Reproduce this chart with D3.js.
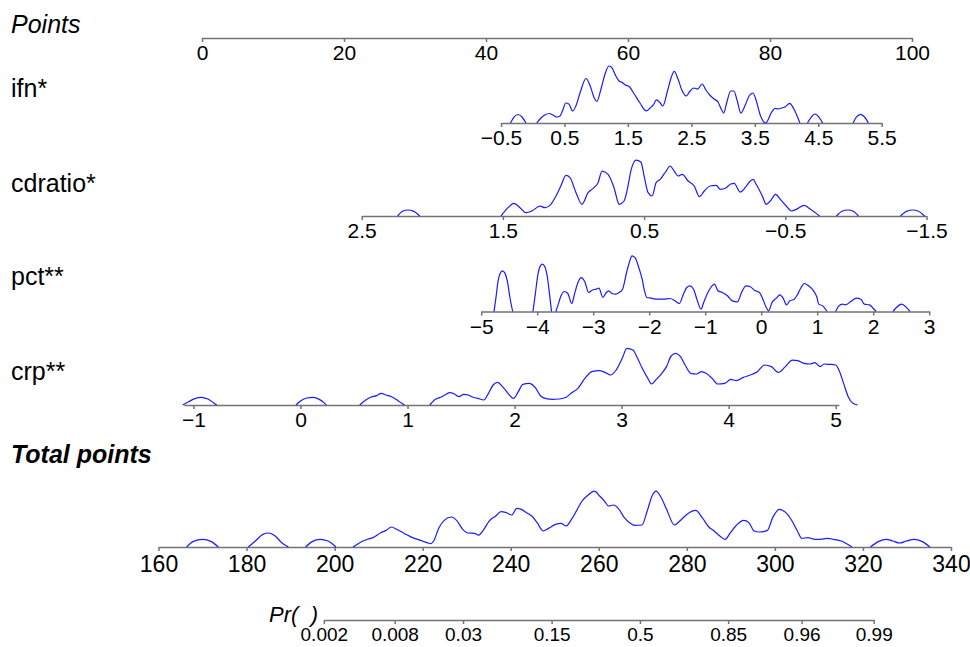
<!DOCTYPE html>
<html>
<head>
<meta charset="utf-8">
<script src="https://cdn.jsdelivr.net/npm/d3@7"></script>
<style>
body { margin: 0; background: #fff; }
</style>
</head>
<body>
<div id="main"></div>
<script>

//=============== DATA ===================
var pointsTicks = [0, 20, 40, 60, 80, 100];
var ifnTicks = [-0.5, 0.5, 1.5, 2.5, 3.5, 4.5, 5.5];
var cdratioTicks = [2.5, 1.5, 0.5, -0.5, -1.5];
var pctTicks = [-5, -4, -3, -2, -1, 0, 1, 2, 3];
var crpTicks = [-1, 0, 1, 2, 3, 4, 5];
var totalTicks = [160, 180, 200, 220, 240, 260, 280, 300, 320, 340];
var prTicks = [0.002, 0.008, 0.03, 0.15, 0.5, 0.85, 0.96, 0.99];
var prLabels = ["0.002", "0.008", "0.03", "0.15", "0.5", "0.85", "0.96", "0.99"];

// density traces: [value, relative density], null = gap
var ifnDensity = [
  [-0.35,0],[-0.295,0.105],[-0.232,0.149],[-0.169,0.105],[-0.106,0],null,
  [0.063,0],[0.13,0.088],[0.19,0.14],[0.26,0.167],[0.32,0.14],[0.38,0.105],[0.43,0.123],[0.48,0.246],
  [0.52,0.351],[0.57,0.333],[0.63,0.211],[0.68,0.298],[0.75,0.544],[0.84,0.781],[0.90,0.667],[0.97,0.439],
  [1.01,0.377],[1.08,0.614],[1.14,0.86],[1.20,1.0],[1.25,0.965],[1.31,0.825],[1.36,0.737],[1.41,0.711],
  [1.46,0.667],[1.52,0.64],[1.60,0.509],[1.69,0.351],[1.79,0.211],[1.85,0.263],[1.90,0.316],[1.95,0.404],
  [2.01,0.351],[2.05,0.298],[2.12,0.544],[2.18,0.789],[2.23,0.904],[2.29,0.772],[2.35,0.579],[2.42,0.474],
  [2.48,0.561],[2.54,0.614],[2.60,0.596],[2.67,0.684],[2.73,0.579],[2.79,0.491],[2.86,0.421],[2.92,0.368],
  [2.97,0.246],[3.01,0.175],[3.06,0.368],[3.12,0.561],[3.17,0.561],[3.22,0.404],[3.28,0.175],[3.35,0.316],
  [3.41,0.474],[3.47,0.526],[3.52,0.404],[3.58,0.158],[3.67,0],[3.77,0.198],[3.82,0.258],[3.87,0.246],
  [3.91,0.258],[3.98,0.286],[4.05,0.346],[4.11,0.258],[4.16,0.14],[4.21,0],null,
  [4.33,0],[4.39,0.105],[4.45,0.158],[4.51,0.105],[4.57,0],null,
  [5.05,0],[5.10,0.105],[5.17,0.153],[5.23,0.105],[5.29,0]
];

var cdratioDensity = [
  [2.245,0],[2.211,0.082],[2.174,0.105],[2.131,0.082],[2.089,0],null,
  [1.513,0],[1.464,0.146],[1.422,0.222],[1.379,0.146],[1.337,0.058],[1.294,0.088],[1.237,0.175],[1.203,0.146],
  [1.167,0.187],[1.124,0.351],[1.090,0.526],[1.053,0.713],[1.025,0.673],[0.982,0.409],[0.940,0.205],[0.897,0.409],
  [0.855,0.497],[0.826,0.585],[0.798,0.789],[0.755,0.731],[0.713,0.497],[0.676,0.205],[0.642,0.263],[0.619,0.468],
  [0.591,0.819],[0.557,0.982],[0.523,0.947],[0.500,0.702],[0.472,0.409],[0.443,0.351],[0.415,0.585],[0.386,0.643],
  [0.344,0.789],[0.316,0.877],[0.287,0.789],[0.259,0.702],[0.230,0.731],[0.188,0.614],[0.145,0.526],[0.108,0.339],
  [0.074,0.439],[0.032,0.526],[-0.011,0.538],[-0.039,0.468],[-0.082,0.497],[-0.110,0.556],[-0.138,0.573],[-0.181,0.421],
  [-0.224,0.526],[-0.252,0.614],[-0.272,0.643],[-0.294,0.556],[-0.337,0.351],[-0.365,0.205],[-0.394,0.263],[-0.431,0.380],
  [-0.465,0.292],[-0.507,0.175],[-0.544,0.088],[-0.578,0.117],[-0.635,0.187],[-0.663,0.146],[-0.706,0.070],[-0.743,0],null,
  [-0.862,0],[-0.902,0.082],[-0.941,0.105],[-0.981,0.082],[-1.018,0],null,
  [-1.316,0],[-1.358,0.082],[-1.401,0.105],[-1.443,0.082],[-1.486,0]
];

var pctDensity = [
  [-4.771,0],[-4.740,0.216],[-4.698,0.539],[-4.662,0.667],[-4.620,0.713],[-4.577,0.673],[-4.529,0.509],[-4.487,0.246],[-4.438,0],null,
  [-4.076,0],[-4.034,0.304],[-3.986,0.655],[-3.943,0.801],[-3.907,0.830],[-3.865,0.789],[-3.817,0.596],[-3.780,0.304],[-3.744,0],null,
  [-3.666,0],[-3.623,0.129],[-3.575,0.275],[-3.515,0.351],[-3.454,0.316],[-3.382,0.140],[-3.334,0.304],[-3.273,0.509],
  [-3.213,0.596],[-3.152,0.526],[-3.080,0.333],[-3.020,0.374],[-2.947,0.392],[-2.899,0.409],[-2.826,0.246],[-2.766,0.333],
  [-2.718,0.363],[-2.669,0.316],[-2.597,0.304],[-2.537,0.333],[-2.476,0.392],[-2.404,0.684],[-2.355,0.860],[-2.307,0.977],
  [-2.247,0.936],[-2.186,0.772],[-2.126,0.567],[-2.084,0.363],[-2.041,0.246],[-1.963,0.234],[-1.872,0.216],[-1.752,0.216],
  [-1.631,0.228],[-1.540,0.187],[-1.462,0.140],[-1.389,0.304],[-1.329,0.421],[-1.269,0.450],[-1.208,0.392],[-1.148,0.216],
  [-1.075,0.041],[-1.027,0.158],[-0.936,0.363],[-0.834,0.480],[-0.773,0.363],[-0.695,0.333],[-0.604,0.275],[-0.514,0.187],
  [-0.423,0.170],[-0.351,0.333],[-0.272,0.450],[-0.194,0.433],[-0.121,0.374],[-0.031,0.333],[0.030,0.216],[0.090,0.070],
  [0.132,0.012],[0.193,0.158],[0.271,0.234],[0.332,0.292],[0.392,0.234],[0.452,0.117],[0.513,0.187],[0.591,0.216],
  [0.652,0.304],[0.712,0.421],[0.772,0.491],[0.845,0.450],[0.935,0.363],[0.996,0.246],[1.026,0.129],[1.098,0.099],[1.177,0],null,
  [1.328,0],[1.388,0.099],[1.449,0.129],[1.509,0.117],[1.600,0.175],[1.702,0.234],[1.781,0.216],[1.841,0.129],[1.932,0.117],[2.004,0.053],[2.052,0],null,
  [2.354,0],[2.415,0.070],[2.505,0.129],[2.584,0.082],[2.656,0]
];

var crpDensity = [
  [-1.100,0],[-1.044,0.058],[-0.987,0.111],[-0.926,0.135],[-0.865,0.105],[-0.813,0.041],[-0.782,0],null,
  [-0.042,0],[0.001,0.070],[0.058,0.123],[0.119,0.135],[0.176,0.099],[0.219,0.041],[0.241,0],null,
  [0.554,0],[0.598,0.070],[0.655,0.135],[0.711,0.164],[0.755,0.205],[0.798,0.175],[0.850,0.146],[0.903,0.088],[0.946,0.029],[0.972,0],null,
  [1.208,0],[1.251,0.088],[1.308,0.135],[1.351,0.175],[1.395,0.216],[1.438,0.193],[1.482,0.146],[1.525,0.187],
  [1.569,0.175],[1.612,0.135],[1.656,0.117],[1.713,0.088],[1.756,0.205],[1.800,0.351],[1.843,0.398],[1.887,0.322],
  [1.939,0.205],[1.991,0.117],[2.035,0.234],[2.078,0.363],[2.135,0.380],[2.192,0.310],[2.244,0.158],[2.296,0.111],
  [2.353,0.099],[2.418,0.105],[2.483,0.135],[2.527,0.205],[2.592,0.292],[2.657,0.468],[2.723,0.585],[2.788,0.602],
  [2.845,0.573],[2.897,0.526],[2.949,0.614],[3.006,0.819],[3.049,0.994],[3.106,0.965],[3.149,0.819],[3.193,0.643],
  [3.245,0.468],[3.280,0.368],[3.324,0.450],[3.376,0.556],[3.419,0.673],[3.463,0.860],[3.506,0.906],[3.550,0.848],
  [3.593,0.702],[3.646,0.556],[3.702,0.544],[3.746,0.585],[3.789,0.556],[3.846,0.468],[3.898,0.368],[3.964,0.380],
  [4.020,0.450],[4.072,0.427],[4.138,0.485],[4.203,0.526],[4.268,0.585],[4.334,0.702],[4.399,0.673],[4.464,0.573],
  [4.530,0.673],[4.595,0.789],[4.647,0.778],[4.704,0.731],[4.760,0.719],[4.804,0.743],[4.856,0.673],[4.891,0.719],
  [4.943,0.713],[5.000,0.702],[5.030,0.614],[5.074,0.380],[5.117,0.146],[5.161,0.029],[5.205,0]
];

var totalDensity = [
  [166.4,0],[167.8,0.094],[170.0,0.135],[172.0,0.094],[173.6,0],null,
  [180.4,0],[182.0,0.105],[183.7,0.222],[185.0,0.246],[186.5,0.193],[188.0,0.076],[189.5,0],null,
  [193.4,0],[194.9,0.094],[196.7,0.135],[198.5,0.105],[200.3,0],null,
  [204.2,0],[205.7,0.076],[207.5,0.135],[208.7,0.164],[210.5,0.251],[211.7,0.292],[212.9,0.351],[214.1,0.310],
  [215.9,0.234],[217.7,0.164],[219.5,0.117],[221.0,0.076],[221.9,0.058],[222.5,0.105],[223.7,0.339],[224.9,0.468],
  [226.5,0.526],[227.7,0.468],[229.1,0.310],[230.3,0.246],[231.8,0.240],[232.7,0.210],[233.9,0.310],[235.1,0.456],
  [236.6,0.544],[237.8,0.620],[239.0,0.602],[240.2,0.561],[241.4,0.678],[242.4,0.661],[243.6,0.602],[244.8,0.544],
  [246.0,0.427],[247.4,0.281],[248.6,0.327],[250.2,0.398],[251.4,0.415],[252.6,0.368],[253.8,0.485],[255.0,0.643],
  [256.2,0.807],[257.8,0.924],[259.0,0.982],[260.2,0.895],[261.4,0.795],[262.2,0.719],[263.4,0.737],[264.6,0.661],
  [265.8,0.515],[267.0,0.427],[268.2,0.380],[269.8,0.386],[271.0,0.632],[272.2,0.912],[273.0,0.982],[274.2,0.865],
  [275.4,0.661],[277.2,0.386],[278.4,0.456],[280.2,0.585],[282.0,0.643],[283.5,0.515],[285.0,0.351],[286.2,0.281],
  [287.5,0.193],[288.7,0.135],[289.9,0.251],[291.1,0.368],[292.9,0.468],[294.1,0.427],[295.3,0.281],[296.5,0.263],
  [298.3,0.292],[299.5,0.515],[301.0,0.661],[302.5,0.602],[303.9,0.456],[305.1,0.281],[306.1,0.152],[307.5,0.164],
  [309.1,0.135],[310.3,0.135],[311.9,0.152],[313.3,0.135],[315.1,0.105],[316.3,0.058],[317.5,0],null,
  [321.7,0],[323.5,0.094],[325.3,0.135],[326.8,0.105],[328.3,0.070],[329.9,0.105],[331.6,0.135],[333.5,0.094],[335.2,0]
];

//=============== LAYOUT ===================
var width = 970,
    height = 647,
    font = '"Liberation Sans", Arial, Helvetica, sans-serif',
    axisColor = "#737373",
    curveColor = "#1a1aff",
    tickLen = 4,
    curveHeight = 57,
    labelX = 11;

function logit(p){ return Math.log(p / (1 - p)); }

var fmt1 = d3.format(".1f"),
    fmt0 = d3.format("d");

var svg = d3.select("#main").append("svg")
    .attr("width", width)
    .attr("height", height);

var rows = [
  {label: "ifn*", y: 123, labelY: 97, ticks: ifnTicks, fmt: fmt1, density: ifnDensity,
   scale: d3.scaleLinear().domain([-0.5, 5.5]).range([501, 881.7])},
  {label: "cdratio*", y: 216, labelY: 192, ticks: cdratioTicks, fmt: fmt1, density: cdratioDensity,
   scale: d3.scaleLinear().domain([2.5, -1.5]).range([361.7, 926.5])},
  {label: "pct**", y: 311.5, labelY: 285, ticks: pctTicks, fmt: fmt0, density: pctDensity,
   scale: d3.scaleLinear().domain([-5, 3]).range([481.2, 929.2])},
  {label: "crp**", y: 405, labelY: 380, ticks: crpTicks, fmt: fmt0, density: crpDensity,
   scale: d3.scaleLinear().domain([-1.09, 5.03]).range([183.8, 838.9])}
];

function drawAxis(scale, y, ticks, fmt, fontSize, labelOffset){
  var ax = d3.axisBottom(scale)
    .tickValues(ticks)
    .tickFormat(fmt)
    .tickSize(tickLen)
    .tickSizeOuter(0)
    .tickPadding(labelOffset - tickLen - 0.71 * fontSize);

  var g = svg.append("g")
    .attr("transform", "translate(0," + y + ")")
    .call(ax)
    .attr("font-family", font)
    .attr("font-size", fontSize);

  g.select(".domain").attr("stroke", axisColor).attr("stroke-width", 1.5);
  g.selectAll(".tick line").attr("stroke", axisColor).attr("stroke-width", 1.5);
  g.selectAll(".tick text").attr("fill", "#000");
  return g;
}

function drawDensity(scale, y, data){
  var yScale = d3.scaleLinear().domain([0, 1]).range([y, y - curveHeight]);
  var line = d3.line()
    .defined(function(d){ return d !== null; })
    .x(function(d){ return scale(d[0]); })
    .y(function(d){ return yScale(d[1]); })
    .curve(d3.curveMonotoneX);

  svg.append("path")
    .datum(data)
    .attr("d", line)
    .attr("fill", "none")
    .attr("stroke", curveColor)
    .attr("stroke-width", 1.2);
}

function addLabel(txt, x, y, size, style, weight, anchor){
  svg.append("text")
    .attr("x", x)
    .attr("y", y)
    .attr("font-family", font)
    .attr("font-size", size)
    .attr("font-style", style || "normal")
    .attr("font-weight", weight || "normal")
    .attr("text-anchor", anchor || "start")
    .text(txt);
}

//=============== POINTS ===================
var pointsScale = d3.scaleLinear().domain([0, 100]).range([202, 912]);
addLabel("Points", labelX, 33, 25, "italic");
drawAxis(pointsScale, 38, pointsTicks, fmt0, 21, 22);

//=============== VARIABLES ===================
rows.forEach(function(r){
  addLabel(r.label, labelX, r.labelY, 25);
  drawAxis(r.scale, r.y, r.ticks, r.fmt, 21, 22);
  drawDensity(r.scale, r.y, r.density);
});

//=============== TOTAL POINTS ===================
var totalScale = d3.scaleLinear().domain([160, 340]).range([158.5, 951]);
addLabel("Total points", labelX, 463, 25, "italic", "bold");
drawAxis(totalScale, 547, totalTicks, fmt0, 23, 25);
drawDensity(totalScale, 547, totalDensity);

//=============== PROBABILITY ===================
var prScale = d3.scaleLinear().domain([logit(0.002), logit(0.99)]).range([323.8, 873.7]);
addLabel("Pr(\u00a0\u00a0)", 318, 622, 22, "italic", "normal", "end");
drawAxis(prScale, 620, prTicks.map(logit), function(d, i){ return prLabels[i]; }, 19, 21);

</script>
</body>
</html>
